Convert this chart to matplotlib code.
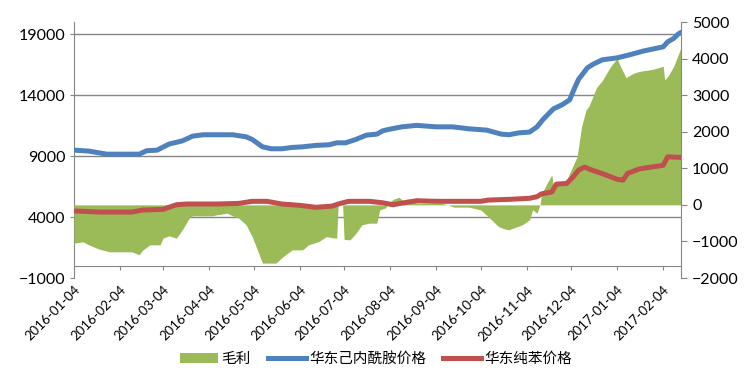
import pandas as pd
import matplotlib.pyplot as plt
import matplotlib.dates as mdates
from matplotlib.patches import Patch
from matplotlib.lines import Line2D

# gross margin (right axis)
gp_dates = ["2016-01-04", "2016-01-10", "2016-01-14", "2016-01-21", "2016-01-28", "2016-02-12",
            "2016-02-17", "2016-02-19", "2016-02-24", "2016-03-02", "2016-03-04", "2016-03-08",
            "2016-03-13", "2016-03-17", "2016-03-22", "2016-03-24", "2016-04-06", "2016-04-09",
            "2016-04-16", "2016-04-20", "2016-04-24", "2016-04-29", "2016-05-03", "2016-05-10",
            "2016-05-19", "2016-05-24", "2016-05-30", "2016-06-06", "2016-06-10", "2016-06-17",
            "2016-06-22", "2016-06-26", "2016-06-29", "2016-06-30", "2016-07-03", "2016-07-04",
            "2016-07-08", "2016-07-12", "2016-07-16", "2016-07-21", "2016-07-26", "2016-07-28",
            "2016-08-01", "2016-08-03", "2016-08-06", "2016-08-10", "2016-08-13", "2016-08-23",
            "2016-09-08", "2016-09-12", "2016-09-16", "2016-09-26", "2016-09-28", "2016-10-04",
            "2016-10-09", "2016-10-16", "2016-10-20", "2016-10-23", "2016-10-25", "2016-11-01",
            "2016-11-06", "2016-11-08", "2016-11-11", "2016-11-13", "2016-11-14", "2016-11-19",
            "2016-11-21", "2016-11-22", "2016-11-28", "2016-12-01", "2016-12-05", "2016-12-08",
            "2016-12-09", "2016-12-11", "2016-12-14", "2016-12-16", "2016-12-21", "2016-12-25",
            "2016-12-30", "2017-01-04", "2017-01-06", "2017-01-10", "2017-01-15", "2017-01-19",
            "2017-01-28", "2017-02-04", "2017-02-05", "2017-02-07", "2017-02-11", "2017-02-16"]
gp_vals = [-1047, -1011, -1093, -1211, -1284, -1284,
           -1366, -1248, -1093, -1093, -910, -847,
           -910, -683, -337, -300, -300, -273,
           -228, -300, -364, -546, -866, -1593,
           -1593, -1412, -1230, -1230, -1093, -1002,
           -866, -900, -910, 0, 0, -945,
           -956, -775, -546, -501, -501, -137,
           -82, 50, 150, 210, 100, 46,
           40, 0, -63, -63, -80, -137,
           -320, -593, -656, -683, -650, -546,
           -410, -137, -228, 0, 300, 683,
           820, 500, 610, 683, 1047, 1320,
           1593, 2140, 2596, 2700, 3200, 3400,
           3750, 4008, 3800, 3480, 3600, 3650,
           3707, 3790, 3415, 3505, 3779, 4300]

# caprolactam price, East China (left axis)
cpl_dates = ["2016-01-04", "2016-01-14", "2016-01-26", "2016-02-17", "2016-02-22", "2016-02-29",
             "2016-03-08", "2016-03-17", "2016-03-24", "2016-03-31", "2016-04-20", "2016-04-29",
             "2016-05-03", "2016-05-10", "2016-05-16", "2016-05-23", "2016-05-30", "2016-06-06",
             "2016-06-15", "2016-06-24", "2016-06-29", "2016-07-05", "2016-07-12", "2016-07-19",
             "2016-07-26", "2016-07-30", "2016-08-03", "2016-08-12", "2016-08-22", "2016-09-04",
             "2016-09-15", "2016-09-26", "2016-10-08", "2016-10-18", "2016-10-23", "2016-10-30",
             "2016-11-06", "2016-11-11", "2016-11-15", "2016-11-22", "2016-11-28", "2016-12-03",
             "2016-12-06", "2016-12-09", "2016-12-15", "2016-12-19", "2016-12-25", "2017-01-04",
             "2017-01-13", "2017-01-22", "2017-01-31", "2017-02-04", "2017-02-07", "2017-02-11",
             "2017-02-14", "2017-02-16"]
cpl_vals = [9490, 9410, 9160, 9160, 9440, 9490,
            9985, 10250, 10640, 10750, 10750, 10580,
            10370, 9760, 9600, 9600, 9710, 9760,
            9880, 9930, 10090, 10090, 10370, 10720,
            10800, 11070, 11190, 11400, 11520, 11400,
            11400, 11240, 11130, 10800, 10750, 10910,
            10970, 11400, 12000, 12870, 13220, 13620,
            14500, 15300, 16250, 16550, 16900, 17060,
            17330, 17630, 17860, 17960, 18370, 18650,
            19000, 19150]

# pure benzene price, East China (left axis)
bz_dates = ["2016-01-04", "2016-01-21", "2016-02-12", "2016-02-19", "2016-03-04", "2016-03-13",
            "2016-03-20", "2016-04-09", "2016-04-24", "2016-05-03", "2016-05-13", "2016-05-23",
            "2016-06-04", "2016-06-15", "2016-06-26", "2016-06-30", "2016-07-07", "2016-07-21",
            "2016-07-30", "2016-08-06", "2016-08-16", "2016-08-22", "2016-09-04", "2016-10-04",
            "2016-10-09", "2016-10-23", "2016-11-06", "2016-11-11", "2016-11-14", "2016-11-21",
            "2016-11-24", "2016-12-01", "2016-12-05", "2016-12-09", "2016-12-13", "2016-12-18",
            "2016-12-25", "2017-01-04", "2017-01-08", "2017-01-11", "2017-01-19", "2017-01-28",
            "2017-02-04", "2017-02-07", "2017-02-16"]
bz_vals = [4500, 4410, 4410, 4570, 4630, 5010,
           5070, 5070, 5120, 5290, 5290, 5070,
           4960, 4800, 4900, 5070, 5290, 5290,
           5170, 5010, 5230, 5340, 5290, 5290,
           5390, 5450, 5540, 5670, 5900, 6060,
           6700, 6760, 7250, 7850, 8100, 7850,
           7560, 7100, 7030, 7580, 7950, 8120,
           8240, 8940, 8890]

tick_dates = ["2016-01-04", "2016-02-04", "2016-03-04", "2016-04-04", "2016-05-04", "2016-06-04",
              "2016-07-04", "2016-08-04", "2016-09-04", "2016-10-04", "2016-11-04", "2016-12-04",
              "2017-01-04", "2017-02-04"]

green = "#9BBB59"
blue = "#4F81BD"
red = "#C0504D"
gray = "#868686"
cjk = ["Noto Sans CJK SC", "DejaVu Sans"]

gp_x = pd.to_datetime(gp_dates)
cpl_x = pd.to_datetime(cpl_dates)
bz_x = pd.to_datetime(bz_dates)
ticks_x = pd.to_datetime(tick_dates)

fig = plt.figure(figsize=(7.45, 3.76), dpi=100)
ax = fig.add_axes([74 / 745, 98 / 376, 607 / 745, 256 / 376])
ax2 = ax.twinx()
ax3 = ax.twinx()

# left axis: gridlines and scale for the price lines
ax.set_ylim(-1000, 20000)
ax.set_yticks([-1000, 4000, 9000, 14000, 19000])
ax.set_xlim(pd.Timestamp("2016-01-04"), pd.Timestamp("2017-02-16"))
ax.set_xticks(ticks_x)
ax.xaxis.set_major_formatter(mdates.DateFormatter("%Y-%m-%d"))
ax.yaxis.grid(True, color=gray, linewidth=1)
ax.set_axisbelow(True)
for sp in ["top", "right"]:
    ax.spines[sp].set_visible(False)
ax.spines["left"].set_color(gray)
ax.spines["bottom"].set_color(gray)
ax.spines["bottom"].set_position(("data", 0))
ax.tick_params(axis="y", colors=gray, length=3, pad=3, labelsize=11.5, labelcolor="black")
ax.tick_params(axis="x", colors=gray, length=3, pad=10, labelsize=9.5, labelcolor="black")
for lbl in ax.get_yticklabels() + ax.get_xticklabels():
    lbl.set_fontfamily("Lato")
for lbl in ax.get_xticklabels():
    lbl.set_rotation(45)
    lbl.set_ha("right")
    lbl.set_rotation_mode("anchor")
ax.get_ygridlines()[0].set_visible(False)

# right axis: gross margin area
ax2.fill_between(gp_x, 0, gp_vals, color=green, linewidth=0)
ax2.set_ylim(-2000, 5000)
ax2.set_yticks(range(-2000, 5001, 1000))
for sp in ["top", "left", "bottom"]:
    ax2.spines[sp].set_visible(False)
ax2.spines["right"].set_color(gray)
ax2.tick_params(axis="y", colors=gray, length=4, pad=4, labelsize=11.5, labelcolor="black")
for lbl in ax2.get_yticklabels():
    lbl.set_fontfamily("Lato")

# price lines on top, same scale as the left axis
ax3.set_ylim(ax.get_ylim())
ax3.plot(cpl_x, cpl_vals, color=blue, linewidth=3.6, solid_capstyle="round")
ax3.plot(bz_x, bz_vals, color=red, linewidth=3.6, solid_capstyle="round")
ax3.axis("off")

handles = [Patch(facecolor=green, edgecolor="none"),
           Line2D([], [], color=blue, linewidth=3.6),
           Line2D([], [], color=red, linewidth=3.6)]
fig.legend(handles, ["毛利", "华东己内酰胺价格", "华东纯苯价格"], loc="center",
           bbox_to_anchor=(0.505, 0.045), ncol=3, frameon=False, handlelength=2.6,
           handletextpad=0.2, columnspacing=1.2, prop={"family": cjk, "size": 10.5})

fig.savefig("out.png", dpi=100)
